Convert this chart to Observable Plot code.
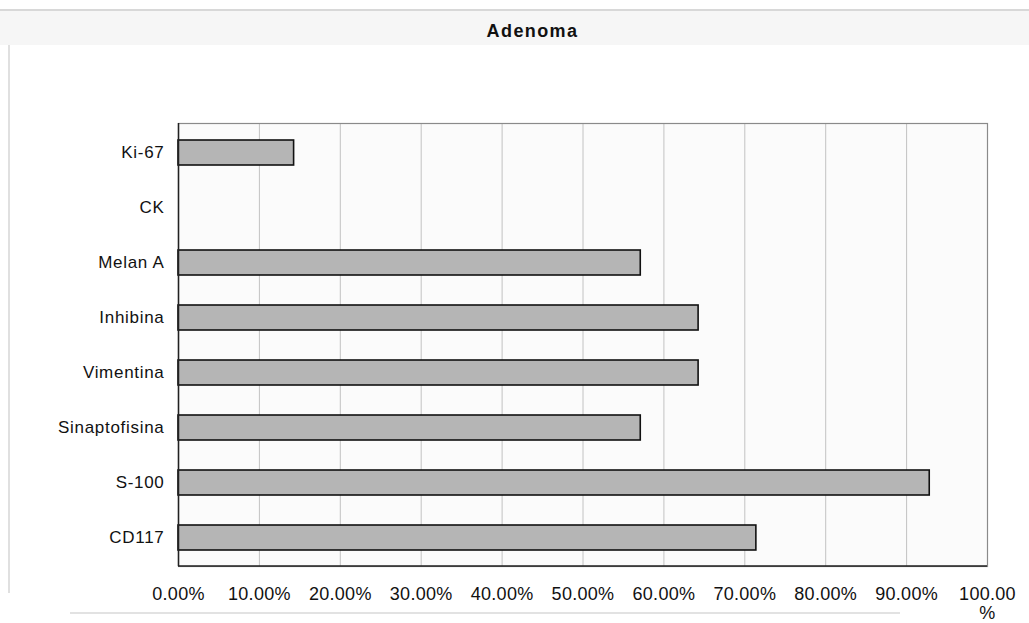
<!DOCTYPE html>
<html>
<head>
<meta charset="utf-8">
<script src="https://cdn.jsdelivr.net/npm/d3@7"></script>
<script src="https://cdn.jsdelivr.net/npm/@observablehq/plot@0.6"></script>
<style>
  html, body { margin: 0; padding: 0; background: #ffffff; }
  #page {
    position: relative;
    width: 1029px;
    height: 623px;
    overflow: hidden;
    background: #ffffff;
    font-family: "Liberation Sans", Arial, sans-serif;
  }
  #edge-top { position: absolute; left: 0; top: 9px; width: 1029px; height: 2px; background: #d8d8d8; }
  #edge-left { position: absolute; left: 8px; top: 45px; width: 2px; height: 548px; background: #e0e0e0; }
  #edge-bottom { position: absolute; left: 70px; top: 612px; width: 830px; height: 2px; background: #e2e2e2; }
  #title {
    position: absolute;
    left: 0; top: 11px;
    width: 1029px; height: 34px;
    background: #f6f6f6;
    text-align: center;
    line-height: 40px;
    font-weight: bold;
    font-size: 18px;
    letter-spacing: 1.4px;
    color: #111;
    text-indent: 36px;
  }
  #chart { position: absolute; left: 0; top: 45px; }
  #chart svg g[aria-label="y-axis tick label"] text { letter-spacing: 0.7px; }
  #chart svg g[aria-label="x-axis tick label"] text { letter-spacing: 0.3px; }
</style>
</head>
<body>
<div id="page">
  <div id="edge-top"></div>
  <div id="title">Adenoma</div>
  <div id="edge-bottom"></div>
  <div id="chart"></div>
  <div id="edge-left"></div>
</div>
<script>
// Immunohistochemical markers, top to bottom
const markers = ["Ki-67", "CK", "Melan A", "Inhibina", "Vimentina", "Sinaptofisina", "S-100", "CD117"];
// Share of positive cases (fraction of 1)
const positive = [0.1429, 0, 0.5714, 0.6429, 0.6429, 0.5714, 0.9286, 0.7143];
// Axis ticks and their printed labels
const xTicks = [0, 0.1, 0.2, 0.3, 0.4, 0.5, 0.6, 0.7, 0.8, 0.9, 1.0];
const xTickLabels = ["0.00%", "10.00%", "20.00%", "30.00%", "40.00%", "50.00%", "60.00%", "70.00%", "80.00%", "90.00%", "100.00\n%"];

const rows = markers.map((m, i) => ({marker: m, value: positive[i]}));

// Dark category-axis line along the bottom edge of the plot area
function bottomAxisLine(index, scales, values, dims) {
  const y = dims.height - dims.marginBottom;
  const line = document.createElementNS("http://www.w3.org/2000/svg", "line");
  line.setAttribute("x1", dims.marginLeft);
  line.setAttribute("x2", dims.width - dims.marginRight);
  line.setAttribute("y1", y);
  line.setAttribute("y2", y);
  line.setAttribute("stroke", "#222");
  line.setAttribute("stroke-width", 1.5);
  return line;
}

const chart = Plot.plot({
  width: 1029,
  height: 578,
  marginTop: 78,
  marginBottom: 57,
  marginLeft: 178,
  marginRight: 42,
  style: {fontFamily: "'Liberation Sans', Arial, sans-serif", background: "transparent", color: "#111", overflow: "visible"},
  x: {domain: [0, 1], ticks: xTicks, label: null},
  y: {domain: markers, label: null, paddingInner: 0.55, paddingOuter: 0.275},
  marks: [
    Plot.frame({fill: "#fbfbfb", stroke: "none"}),
    Plot.gridX(xTicks, {stroke: "#c2c2c2", strokeOpacity: 1, strokeWidth: 1}),
    Plot.frame({stroke: "#8a8a8a", strokeWidth: 1.2}),
    Plot.barX(rows.filter(d => d.value > 0), {
      x: "value", y: "marker",
      fill: "#b5b5b5", stroke: "#111", strokeWidth: 1.6
    }),
    Plot.ruleX([0], {stroke: "#222", strokeWidth: 1.5}),
    bottomAxisLine,
    Plot.axisX({
      ticks: xTicks,
      tickFormat: (d, i) => xTickLabels[i],
      tickSize: 0,
      tickPadding: 20,
      fontSize: 18,
      lineHeight: 1.05
    }),
    Plot.axisY({
      tickSize: 0,
      tickPadding: 14,
      fontSize: 17
    })
  ]
});

document.getElementById("chart").appendChild(chart);
</script>
</body>
</html>
